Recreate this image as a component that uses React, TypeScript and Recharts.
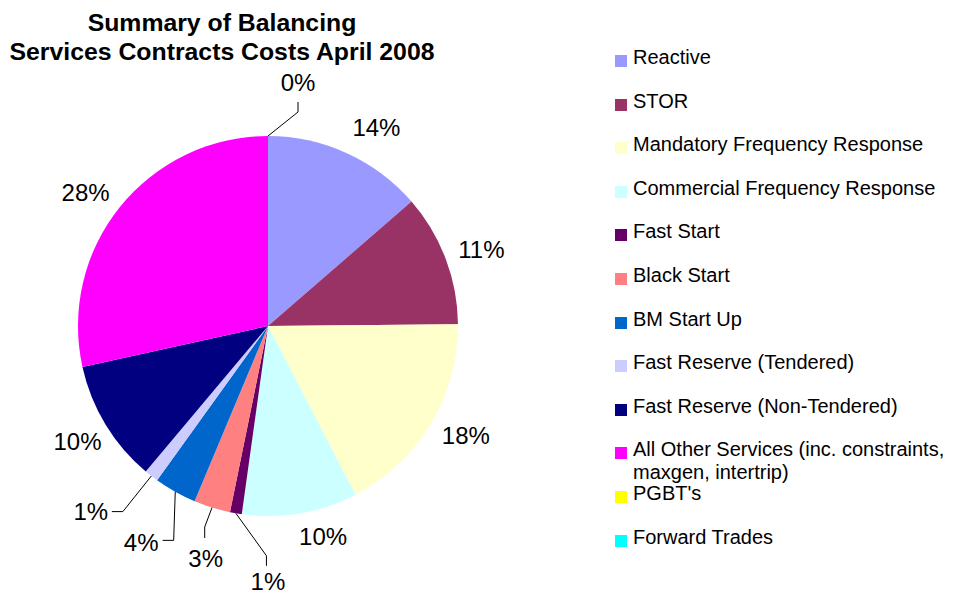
import { Cell, Legend, Pie, PieChart } from "recharts";

if (typeof document !== "undefined") document.body.style.margin = "0";

const services = [
  "Reactive",
  "STOR",
  "Mandatory Frequency Response",
  "Commercial Frequency Response",
  "Fast Start",
  "Black Start",
  "BM Start Up",
  "Fast Reserve (Tendered)",
  "Fast Reserve (Non-Tendered)",
  "All Other Services (inc. constraints, maxgen, intertrip)",
  "PGBT's",
  "Forward Trades"
];

// share of total cost, % (null = no entry)
const costShare: (number | null)[] = [13.6, 11.2, 17.5, 9.8, 1.0, 3.1, 3.6, 1.2, 10.4, 28.4, 0, null];

const sliceColors = [
  "#9999FF",
  "#993366",
  "#FFFFCC",
  "#CCFFFF",
  "#660066",
  "#FF8080",
  "#0066CC",
  "#CCCCFF",
  "#000080",
  "#FF00FF",
  "#FFFF00",
  "#00FFFF"
];

const titleLines = ["Summary of Balancing", "Services Contracts Costs April 2008"];

const chartData = services.map((name, i) => ({ name, value: costShare[i] ?? 0, fill: sliceColors[i] }));

const FONT = "'Liberation Sans', Arial, sans-serif";
const RAD = Math.PI / 180;
const LABEL_GAP = 35;

type Pt = [number, number];
// label moves off the default spot, and leader lines (elbow, end) relative to label centre
const labelTweak: Record<number, { dx: number; dy: number; leader?: [Pt, Pt] }> = {
  0: { dx: 15, dy: 6 },
  1: { dx: 3, dy: 3 },
  2: { dx: 5, dy: -6 },
  3: { dx: 17, dy: -11 },
  4: { dx: 38, dy: 34, leader: [[-1.5, -26], [-1.5, -16]] },
  5: { dx: 4, dy: 17, leader: [[-1, -31], [-1, -20]] },
  6: { dx: -17, dy: 20, leader: [[32.5, -2], [21.5, -2]] },
  7: { dx: -39, dy: 8, leader: [[32, 0], [21, 0]] },
  8: { dx: 2, dy: -1 },
  9: { dx: -7, dy: 7 },
  10: { dx: 30, dy: -19, leader: [[0, 30], [0, 20]] }
};

function renderLabel(props: any) {
  const { cx, cy, midAngle, outerRadius, percent, index } = props;
  if (costShare[index] === null) return null;
  const cos = Math.cos(-midAngle * RAD);
  const sin = Math.sin(-midAngle * RAD);
  const tweak = labelTweak[index] ?? { dx: 0, dy: 0 };
  const x = cx + (outerRadius + LABEL_GAP) * cos + tweak.dx;
  const y = cy + (outerRadius + LABEL_GAP) * sin + tweak.dy;
  const sx = cx + outerRadius * cos;
  const sy = cy + outerRadius * sin;
  return (
    <g key={`lbl-${index}`}>
      {tweak.leader && (
        <polyline
          points={`${sx},${sy} ${x + tweak.leader[0][0]},${y + tweak.leader[0][1]} ${x + tweak.leader[1][0]},${y + tweak.leader[1][1]}`}
          fill="none"
          stroke="#000"
          strokeWidth={1}
        />
      )}
      <text
        x={x}
        y={y}
        textAnchor="middle"
        dominantBaseline="central"
        fontFamily={FONT}
        fontSize={24}
        fill="#000"
      >
        {`${Math.round((percent || 0) * 100)}%`}
      </text>
    </g>
  );
}

function LegendList() {
  return (
    <div style={{ fontFamily: FONT, fontSize: 20, color: "#000" }}>
      {services.map((name, i) => (
        <div key={name} style={{ position: "relative", height: 43.6 }}>
          <span
            style={{
              position: "absolute",
              left: 0,
              top: 9,
              width: 12,
              height: 12,
              background: sliceColors[i]
            }}
          />
          <div style={{ position: "absolute", left: 18, top: 0, width: 325, lineHeight: "23px" }}>{name}</div>
        </div>
      ))}
    </div>
  );
}

export default function App() {
  return (
    <div style={{ position: "relative", width: 953, height: 596, overflow: "hidden", background: "#fff" }}>
      <div
        style={{
          position: "absolute",
          left: 0,
          top: 8,
          width: 444,
          textAlign: "center",
          fontFamily: FONT,
          fontWeight: "bold",
          fontSize: 24.8,
          lineHeight: "29px",
          color: "#000",
          zIndex: 2
        }}
      >
        {titleLines.map((line) => (
          <div key={line}>{line}</div>
        ))}
      </div>
      <PieChart width={953} height={596} margin={{ top: 0, right: 0, bottom: 0, left: 0 }}>
        <Pie
          data={chartData}
          dataKey="value"
          nameKey="name"
          cx={268}
          cy={326}
          outerRadius={190}
          startAngle={90}
          endAngle={-270}
          stroke="none"
          label={renderLabel}
          labelLine={false}
          isAnimationActive={false}
        >
          {chartData.map((d) => (
            <Cell key={d.name} fill={d.fill} />
          ))}
        </Pie>
        <Legend
          layout="vertical"
          verticalAlign="top"
          align="right"
          content={<LegendList />}
          wrapperStyle={{ left: 615, top: 46, width: 338 }}
        />
      </PieChart>
    </div>
  );
}
